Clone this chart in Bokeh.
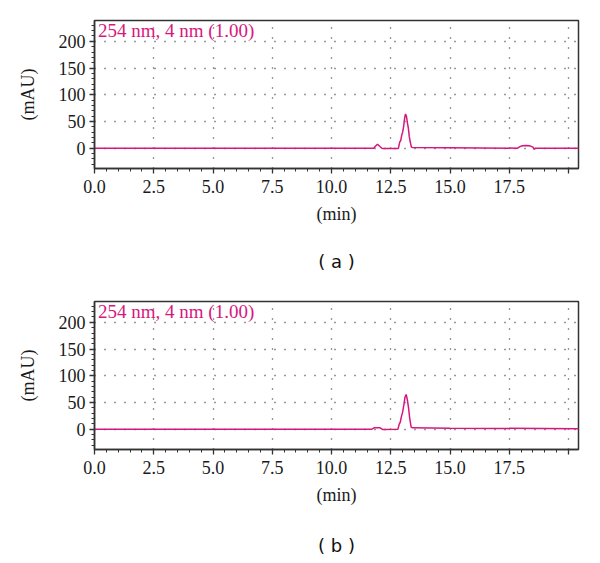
from bokeh.plotting import figure
from bokeh.layouts import column
from bokeh.models import FixedTicker, Label, Title, Range1d
from bokeh.embed import file_html
from bokeh.resources import INLINE

# ---- data ----
t_a = [0.0, 11.78, 11.86, 11.94, 12.02, 12.12, 12.2, 12.82, 12.88, 12.92, 12.96, 13.0, 13.04,
       13.08, 13.12, 13.16, 13.2, 13.24, 13.28, 13.32, 13.37, 13.42, 15.0, 17.85, 17.95, 18.05,
       18.2, 18.35, 18.45, 18.5, 18.55, 18.6, 20.42]
mau_a = [0.0, 0.0, 4.0, 7.5, 4.0, 0.0, -0.5, -0.5, 12.0, 14.0, 24.0, 30.0, 40.0,
         55.0, 64.0, 60.0, 48.0, 38.0, 22.0, 12.0, 2.0, 1.5, 1.0, 0.0, 3.0, 4.5,
         5.0, 4.5, 3.0, 2.0, -2.0, 0.0, 0.0]

t_b = [0.0, 11.7, 11.8, 12.05, 12.15, 12.8, 12.86, 12.9, 12.95, 13.0, 13.05, 13.1, 13.15,
       13.2, 13.25, 13.3, 13.36, 13.42, 15.0, 20.42]
mau_b = [0.0, 0.0, 2.5, 2.5, -0.5, 0.0, 10.0, 13.0, 24.0, 32.0, 45.0, 60.0, 65.0,
         55.0, 40.0, 20.0, 4.0, 2.5, 2.0, 1.0]

x_ticks = [0.0, 2.5, 5.0, 7.5, 10.0, 12.5, 15.0, 17.5, 20.0]
x_tick_labels = ["0.0", "2.5", "5.0", "7.5", "10.0", "12.5", "15.0", "17.5", ""]
y_ticks = [0, 50, 100, 150, 200]
x_minor = [i * 0.5 for i in range(0, 41)]
y_minor = list(range(-30, 240, 10))

channel_label = "254 nm, 4 nm (1.00)"
captions = ["( a )", "( b )"]

TRACE = "#d6187e"
SERIF = "Liberation Serif"


def panel(t, y, caption, height, top, bottom, cap_standoff):
    p = figure(width=584, height=height, output_backend="svg", toolbar_location=None,
               x_range=Range1d(0, 20.42), y_range=Range1d(-38, 239),
               min_border_left=94, min_border_right=10, min_border_top=top,
               min_border_bottom=bottom, frame_width=484, frame_height=148)
    p.background_fill_color = "white"
    p.border_fill_color = "white"
    p.outline_line_color = "#333333"
    p.outline_line_width = 1.5

    p.line(t, y, line_color=TRACE, line_width=1.5)

    p.xaxis.ticker = FixedTicker(ticks=x_ticks, minor_ticks=x_minor)
    p.xaxis.major_label_overrides = {tk: lb for tk, lb in zip(x_ticks, x_tick_labels)}
    p.yaxis.ticker = FixedTicker(ticks=y_ticks, minor_ticks=y_minor)

    for ax in (p.xaxis[0], p.yaxis[0]):
        ax.axis_line_color = "#333333"
        ax.axis_line_width = 1.5
        ax.major_tick_line_color = "#333333"
        ax.minor_tick_line_color = "#333333"
        ax.major_tick_line_width = 1.3
        ax.minor_tick_line_width = 1.0
        ax.major_tick_out = 5
        ax.major_tick_in = 0
        ax.minor_tick_out = 3
        ax.minor_tick_in = 0
        ax.major_label_text_font = SERIF
        ax.major_label_text_font_size = "18px"
        ax.major_label_text_color = "#1a1a1a"
        ax.axis_label_text_font = SERIF
        ax.axis_label_text_font_size = "18px"
        ax.axis_label_text_font_style = "normal"
        ax.axis_label_text_color = "#1a1a1a"

    p.xaxis.axis_label = "(min)"
    p.xaxis.major_label_standoff = 6
    p.xaxis.axis_label_standoff = 8
    p.yaxis.axis_label = "(mAU)"
    p.yaxis.major_label_standoff = 4
    p.yaxis.axis_label_standoff = 18

    p.xgrid.ticker = FixedTicker(ticks=x_ticks[1:])
    p.ygrid.ticker = FixedTicker(ticks=y_ticks)
    for g in (p.xgrid[0], p.ygrid[0]):
        g.grid_line_color = "#333333"
        g.grid_line_dash = "1 9"
        g.grid_line_width = 1.3

    p.add_layout(Label(x=0.15, y=220, text=channel_label, text_font=SERIF,
                       text_font_size="19px", text_color=TRACE, text_baseline="middle"))

    p.add_layout(Title(text=caption, align="center", offset=-14, standoff=cap_standoff,
                       text_font="DejaVu Sans", text_font_size="18px",
                       text_font_style="normal", text_color="#111111"), "below")
    return p


p1 = panel(t_a, mau_a, captions[0], 280, 20, 100, 44)
p2 = panel(t_b, mau_b, captions[1], 270, 8, 100, 51)
p = column(p1, p2, spacing=0)

open("out.html", "w").write(file_html(p, INLINE))
